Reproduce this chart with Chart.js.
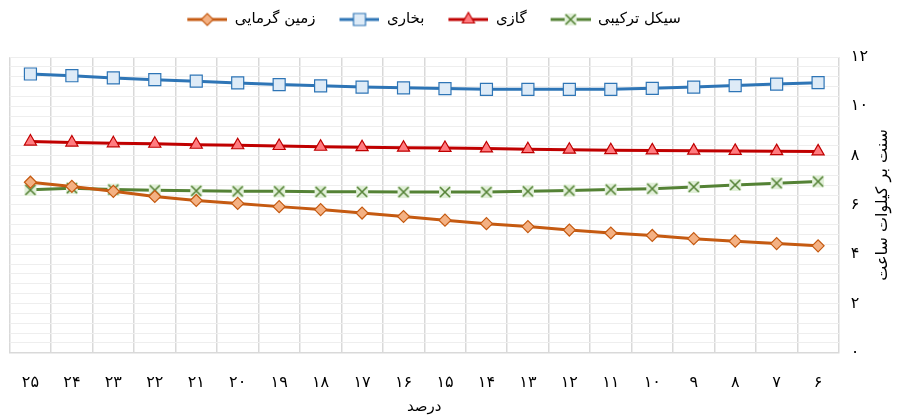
<!DOCTYPE html>
<html>
<head>
<meta charset="utf-8">
<script src="https://cdn.jsdelivr.net/npm/chart.js@4/dist/chart.umd.min.js"></script>
<style>
  html, body { margin: 0; padding: 0; background: #fff; }
  #wrap { width: 906px; height: 415px; }
</style>
</head>
<body>
<div id="wrap"><canvas id="chart" width="906" height="415"></canvas></div>
<script>
// categories and values
const categories = ['۲۵','۲۴','۲۳','۲۲','۲۱','۲۰','۱۹','۱۸','۱۷','۱۶','۱۵','۱۴','۱۳','۱۲','۱۱','۱۰','۹','۸','۷','۶'];
const yTickLabels = ['۰','۲','۴','۶','۸','۱۰','۱۲'];
const xTitle = 'درصد';
const yTitle = 'سنت بر کیلوات ساعت';

const geothermal = [6.92, 6.75, 6.55, 6.34, 6.18, 6.06, 5.93, 5.81, 5.67, 5.53, 5.38, 5.24, 5.12, 4.98, 4.86, 4.76, 4.63, 4.53, 4.43, 4.34];
const steam      = [11.31, 11.24, 11.15, 11.08, 11.02, 10.95, 10.88, 10.83, 10.78, 10.75, 10.72, 10.69, 10.69, 10.69, 10.69, 10.73, 10.78, 10.84, 10.90, 10.96];
const gas        = [8.57, 8.53, 8.50, 8.48, 8.44, 8.42, 8.39, 8.36, 8.34, 8.32, 8.31, 8.29, 8.26, 8.24, 8.22, 8.21, 8.20, 8.19, 8.18, 8.17];
const combined   = [6.61, 6.68, 6.62, 6.59, 6.57, 6.55, 6.55, 6.53, 6.53, 6.52, 6.52, 6.52, 6.55, 6.58, 6.62, 6.66, 6.73, 6.81, 6.88, 6.95];

const FONT = "'DejaVu Sans', sans-serif";

// Excel style "x" marker: pale square with a cross on it
function crossMarker(line, fill) {
  const c = document.createElement('canvas');
  c.width = 14; c.height = 14;
  const g = c.getContext('2d');
  g.fillStyle = fill;
  g.fillRect(1, 1, 12, 12);
  g.strokeStyle = line;
  g.lineWidth = 1.6;
  g.beginPath();
  g.moveTo(2, 2); g.lineTo(12, 12);
  g.moveTo(12, 2); g.lineTo(2, 12);
  g.stroke();
  return c;
}

const series = [
  { label: 'زمین گرمایی', data: geothermal, line: '#C55A11', fill: '#F4B183', style: 'rectRot',  r: 6 },
  { label: 'بخاری',       data: steam,      line: '#2E75B6', fill: '#DEEBF7', style: 'rect',     r: 8.5 },
  { label: 'گازی',        data: gas,        line: '#C00000', fill: '#FF7C80', style: 'triangle', r: 7 },
  { label: 'سیکل ترکیبی', data: combined,   line: '#548235', fill: '#E2F0D9', style: crossMarker('#548235', '#E2F0D9'), r: 7 }
];

// legend icon: line with the marker in its middle, blank margin on the left
function legendIcon(s) {
  const c = document.createElement('canvas');
  c.width = 54; c.height = 18;
  const g = c.getContext('2d');
  g.strokeStyle = s.line;
  g.lineWidth = 3;
  g.beginPath(); g.moveTo(14, 9); g.lineTo(54, 9); g.stroke();
  g.fillStyle = s.fill;
  g.strokeStyle = s.line;
  g.lineWidth = 1.2;
  Chart.helpers.drawPoint(g, { pointStyle: s.style, radius: s.r, rotation: 0, borderWidth: 1.2 }, 34, 9);
  return c;
}

const toFa = v => {
  const i = Math.round(v / 2);
  return Math.abs(v - i * 2) < 1e-6 ? yTickLabels[i] : '';
};

// extra room under the legend, and nudge it a bit to the left
const legendGap = {
  id: 'legendGap',
  beforeInit(chart) {
    const fit = chart.legend.fit;
    chart.legend.fit = function () {
      fit.call(this);
      this.height += 20;
    };
  },
  afterLayout(chart) {
    chart.legend.left -= 16;
    chart.legend.right -= 16;
  }
};

// axis titles drawn by hand so the y title can read top-down like the original
const axisTitles = {
  id: 'axisTitles',
  afterDraw(chart) {
    const { ctx, chartArea: a } = chart;
    ctx.save();
    ctx.fillStyle = '#000';
    ctx.textAlign = 'center';
    ctx.textBaseline = 'middle';
    ctx.font = '15px ' + FONT;
    ctx.fillText(xTitle, (a.left + a.right) / 2, chart.height - 8);
    ctx.translate(chart.width - 23, (a.top + a.bottom) / 2);
    ctx.rotate(-Math.PI / 2);
    ctx.font = '16px ' + FONT;
    ctx.fillText(yTitle, 0, 0);
    ctx.restore();
  }
};

new Chart(document.getElementById('chart'), {
  type: 'line',
  data: {
    labels: categories,
    datasets: series.map(s => ({
      label: s.label,
      data: s.data,
      borderColor: s.line,
      backgroundColor: s.fill,
      borderWidth: 3,
      pointStyle: s.style,
      pointRadius: s.r,
      pointBackgroundColor: s.fill,
      pointBorderColor: s.line,
      pointBorderWidth: 1.2,
      tension: 0,
      fill: false
    }))
  },
  plugins: [legendGap, axisTitles],
  options: {
    responsive: false,
    animation: false,
    layout: { padding: { left: 6, right: 26, top: 2, bottom: 3 } },
    plugins: {
      tooltip: { enabled: false },
      legend: {
        position: 'top',
        labels: {
          color: '#000',
          font: { family: FONT, size: 15 },
          usePointStyle: true,
          pointStyleWidth: 54,
          padding: 10,
          generateLabels(chart) {
            const base = Chart.defaults.plugins.legend.labels.generateLabels(chart);
            base.forEach((l, i) => { l.pointStyle = legendIcon(series[i]); });
            return base;
          }
        }
      }
    },
    scales: {
      x: {
        offset: true,
        grid: { offset: true, color: '#d9d9d9', lineWidth: 1.5, drawTicks: false },
        border: { color: '#d9d9d9', width: 1.5 },
        ticks: { color: '#000', font: { family: FONT, size: 16 }, padding: 20, maxRotation: 0, autoSkip: false }
      },
      y: {
        position: 'right',
        min: 0,
        max: 12,
        grid: { color: '#eeeeee', lineWidth: 1, drawTicks: false },
        border: { display: false },
        ticks: { stepSize: 0.4, autoSkip: false, callback: v => toFa(v), color: '#000', font: { family: FONT, size: 16 }, padding: 12 }
      }
    }
  }
});
</script>
</body>
</html>
